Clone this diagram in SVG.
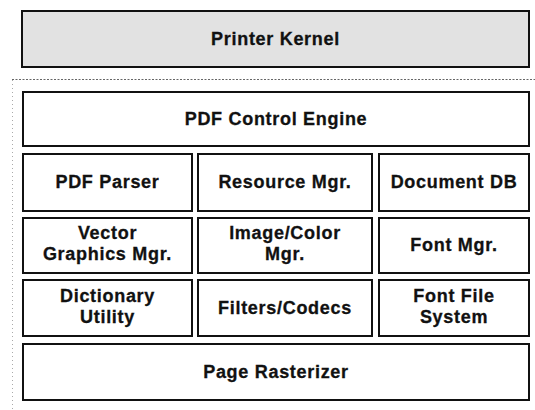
<svg xmlns="http://www.w3.org/2000/svg" width="535" height="410" viewBox="0 0 535 410">
<style>
.box{fill:#fff;stroke:#111;stroke-width:2}
.kernel{fill:#e2e2e2;stroke:#111;stroke-width:2}
text{font-family:"Liberation Sans",Arial,sans-serif;font-weight:bold;font-size:18px;letter-spacing:0.7px;fill:#111;stroke:#111;stroke-width:0.3;text-anchor:middle}
.sep{fill:none;stroke:#666;stroke-width:1;stroke-dasharray:2 1.5}
.sepv{fill:none;stroke:#aaa;stroke-width:1;stroke-dasharray:1 3}
</style>
<rect width="535" height="410" fill="#fff"/>
<g id="separators">
<line class="sep" x1="12" y1="79.5" x2="535" y2="79.5"/>
<line class="sepv" x1="12.5" y1="80" x2="12.5" y2="410"/>
</g>
<g id="printer-kernel"><rect class="kernel" x="22" y="11" width="507" height="56"/><text x="275.5" y="45">Printer Kernel</text></g>
<g id="pdf-control-engine"><rect class="box" x="23" y="92" width="506" height="54"/><text x="276" y="125">PDF Control Engine</text></g>
<g id="pdf-parser"><rect class="box" x="23" y="154" width="169" height="57"/><text x="107.5" y="188">PDF Parser</text></g>
<g id="resource-mgr"><rect class="box" x="198" y="154" width="174" height="57"/><text x="285" y="188">Resource Mgr.</text></g>
<g id="document-db"><rect class="box" x="379" y="154" width="150" height="57"/><text x="454" y="188">Document DB</text></g>
<g id="vector-graphics-mgr"><rect class="box" x="23" y="218" width="169" height="55"/><text x="107.5" y="239">Vector</text><text x="107.5" y="260">Graphics Mgr.</text></g>
<g id="image-color-mgr"><rect class="box" x="198" y="218" width="174" height="55"/><text x="285" y="239">Image/Color</text><text x="285" y="260">Mgr.</text></g>
<g id="font-mgr"><rect class="box" x="379" y="218" width="150" height="55"/><text x="454" y="251">Font Mgr.</text></g>
<g id="dictionary-utility"><rect class="box" x="23" y="280" width="169" height="56"/><text x="107.5" y="302">Dictionary</text><text x="107.5" y="323">Utility</text></g>
<g id="filters-codecs"><rect class="box" x="198" y="280" width="174" height="56"/><text x="285" y="314">Filters/Codecs</text></g>
<g id="font-file-system"><rect class="box" x="379" y="280" width="150" height="56"/><text x="454" y="302">Font File</text><text x="454" y="323">System</text></g>
<g id="page-rasterizer"><rect class="box" x="23" y="344" width="506" height="56"/><text x="276" y="378">Page Rasterizer</text></g>
<g id="connectors"></g>
</svg>
